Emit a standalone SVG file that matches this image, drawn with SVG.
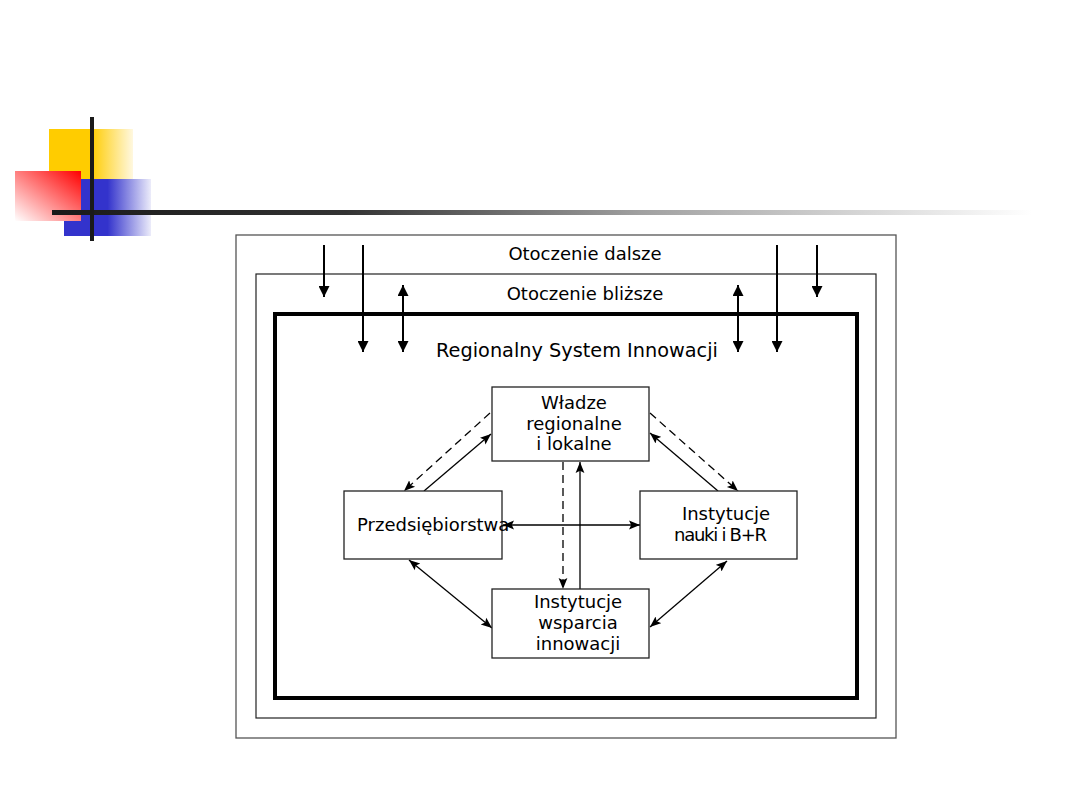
<svg xmlns="http://www.w3.org/2000/svg" width="1080" height="810" viewBox="0 0 1080 810">
<defs>
<linearGradient id="gy" x1="0" y1="0" x2="1" y2="0"><stop offset="0.5" stop-color="#ffcc00"/><stop offset="1" stop-color="#fff8e0"/></linearGradient>
<linearGradient id="gb" x1="0" y1="0" x2="1" y2="0"><stop offset="0.5" stop-color="#3333cc"/><stop offset="1" stop-color="#ececfa"/></linearGradient>
<linearGradient id="gr" x1="1" y1="0" x2="0" y2="1"><stop offset="0" stop-color="#ff0000"/><stop offset="1" stop-color="#ffffff"/></linearGradient>
<linearGradient id="gl" x1="0" y1="0" x2="1" y2="0"><stop offset="0" stop-color="#1a1a1a"/><stop offset="0.3" stop-color="#333"/><stop offset="0.6" stop-color="#a0a0a0"/><stop offset="1" stop-color="#ffffff"/></linearGradient>
<marker id="ab" viewBox="0 0 10 10" refX="10" refY="5" markerWidth="11" markerHeight="11" markerUnits="userSpaceOnUse" orient="auto-start-reverse"><path d="M0,0 L10,5 L0,10 z" fill="#000"/></marker>
<marker id="as" viewBox="0 0 10 10" refX="10" refY="5" markerWidth="11" markerHeight="11" markerUnits="userSpaceOnUse" orient="auto-start-reverse"><path d="M0,1 L10,5 L0,9 L2,5 z" fill="#000"/></marker>
</defs>
<style>
text{font-family:"DejaVu Sans",sans-serif;fill:#000}
.t{font-size:18px;text-anchor:middle}
.nb{fill:#fff;stroke:#222;stroke-width:1.3}
.big{stroke:#000;stroke-width:2;fill:none}
.c{stroke:#000;stroke-width:1.3;fill:none}
.d{stroke-dasharray:8,5}
</style>
<rect width="1080" height="810" fill="#fff"/>
<g id="decoration">
<rect x="49" y="129" width="84" height="60" fill="url(#gy)"/>
<rect x="64" y="179" width="87" height="57" fill="url(#gb)"/>
<rect x="15" y="171" width="66" height="50" fill="url(#gr)"/>
<rect x="52" y="210" width="980" height="5" fill="url(#gl)"/>
<rect x="90" y="117" width="4" height="124" fill="#1a1a1a"/>
</g>
<g id="otoczenie-dalsze">
<rect x="236" y="235" width="660" height="503" fill="#fff" stroke="#555" stroke-width="1.3"/>
<text class="t" x="585" y="260">Otoczenie dalsze</text>
</g>
<g id="otoczenie-blizsze">
<rect x="256" y="274" width="620" height="444" fill="#fff" stroke="#222" stroke-width="1.2"/>
<text class="t" x="585" y="300">Otoczenie bliższe</text>
</g>
<g id="rsi">
<rect x="275" y="314" width="582" height="384" fill="#fff" stroke="#000" stroke-width="4"/>
<text x="577" y="357" style="font-size:19.3px;text-anchor:middle">Regionalny System Innowacji</text>
</g>
<g id="connectors">
<line class="big" x1="324" y1="245" x2="324" y2="297" marker-end="url(#ab)"/>
<line class="big" x1="363" y1="245" x2="363" y2="352" marker-end="url(#ab)"/>
<line class="big" x1="403" y1="285" x2="403" y2="352" marker-start="url(#ab)" marker-end="url(#ab)"/>
<line class="big" x1="738" y1="285" x2="738" y2="352" marker-start="url(#ab)" marker-end="url(#ab)"/>
<line class="big" x1="777" y1="245" x2="777" y2="352" marker-end="url(#ab)"/>
<line class="big" x1="817" y1="245" x2="817" y2="297" marker-end="url(#ab)"/>
<line class="c d" x1="490" y1="413" x2="404" y2="491" marker-end="url(#as)"/>
<line class="c" x1="424" y1="491" x2="491" y2="434" marker-end="url(#as)"/>
<line class="c d" x1="650" y1="413" x2="738" y2="491" marker-end="url(#as)"/>
<line class="c" x1="718" y1="491" x2="650" y2="433" marker-end="url(#as)"/>
<line class="c" x1="503" y1="525" x2="640" y2="525" marker-start="url(#as)" marker-end="url(#as)"/>
<line class="c d" x1="563" y1="462" x2="563" y2="589" marker-end="url(#as)"/>
<line class="c" x1="580" y1="589" x2="580" y2="462" marker-end="url(#as)"/>
<line class="c" x1="409" y1="560" x2="492" y2="628" marker-start="url(#as)" marker-end="url(#as)"/>
<line class="c" x1="727" y1="561" x2="650" y2="627" marker-start="url(#as)" marker-end="url(#as)"/>
</g>
<g id="wladze">
<rect class="nb" x="492" y="387" width="157" height="74"/>
<text class="t" x="574" y="409">Władze</text>
<text class="t" x="574" y="430">regionalne</text>
<text class="t" x="574" y="450">i lokalne</text>
</g>
<g id="przedsiebiorstwa">
<rect class="nb" x="344" y="491" width="158" height="68"/>
<text x="357" y="531" style="font-size:18px">Przedsiębiorstwa</text>
</g>
<g id="nauki">
<rect class="nb" x="640" y="491" width="157" height="68"/>
<text class="t" x="726" y="520">Instytucje</text>
<text x="674" y="541" style="font-size:18px" textLength="93" lengthAdjust="spacing">nauki i B+R</text>
</g>
<g id="wsparcia">
<rect class="nb" x="492" y="589" width="157" height="69"/>
<text class="t" x="578" y="608">Instytucje</text>
<text class="t" x="578" y="629">wsparcia</text>
<text class="t" x="578" y="650">innowacji</text>
</g>
</svg>
